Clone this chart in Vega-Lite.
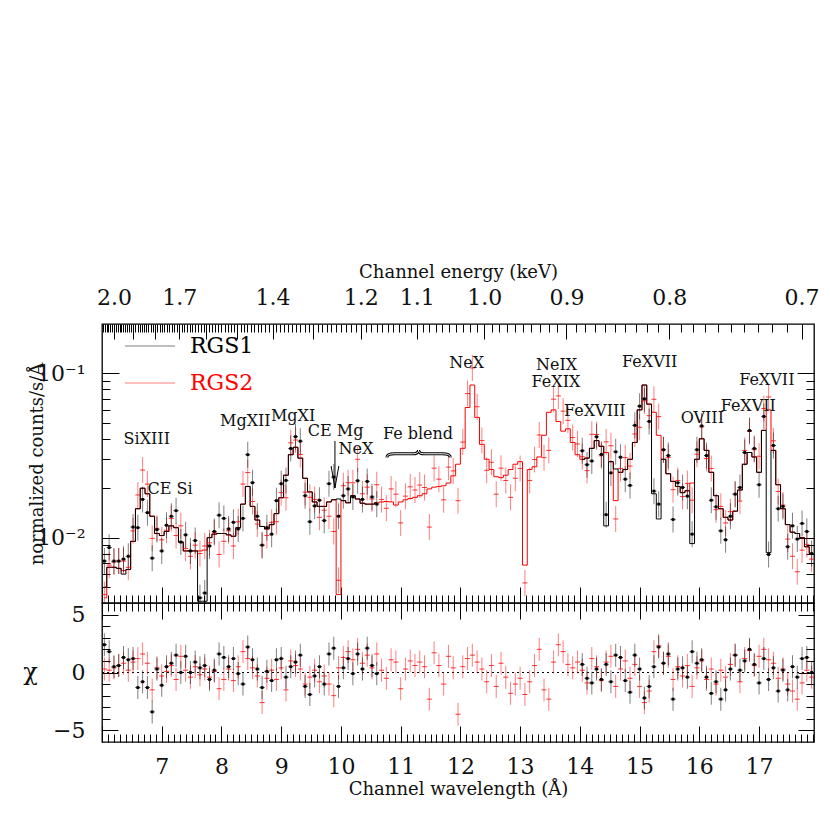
{
  "$schema": "https://vega.github.io/schema/vega-lite/v6.json",
  "background": "white",
  "padding": {"left": 22, "top": 262, "right": 5, "bottom": 5},
  "spacing": 0,
  "bounds": "flush",
  "resolve": {"scale": {"color": "independent"}},
  "config": {
    "view": {"stroke": "black", "strokeWidth": 1.3},
    "axis": {"domain": false, "grid": false, "tickColor": "black", "tickWidth": 1, "labelFont": "DejaVu Serif", "titleFont": "DejaVu Serif", "labelColor": "#111", "titleColor": "#111", "titleFontWeight": "normal", "labelFontSize": 22, "titleFontSize": 18, "labelOverlap": false, "labelFlush": false, "labelBound": false},
    "text": {"font": "DejaVu Serif"}
  },
  "datasets": {
    "spec": [
      {"s":"RGS2","x":6.04,"y":0.0045,"m":0.0043,"r":0.3},
      {"s":"RGS2","x":6.12,"y":0.0068,"m":0.0066,"r":0.2},
      {"s":"RGS2","x":6.20,"y":0.0071,"m":0.0066,"r":0.4},
      {"s":"RGS2","x":6.28,"y":0.0072,"m":0.0065,"r":0.6},
      {"s":"RGS2","x":6.36,"y":0.0072,"m":0.0063,"r":0.8},
      {"s":"RGS2","x":6.44,"y":0.0066,"m":0.0064,"r":0.2},
      {"s":"RGS2","x":6.52,"y":0.0110,"m":0.0095,"r":0.9},
      {"s":"RGS2","x":6.60,"y":0.0182,"m":0.0150,"r":1.2},
      {"s":"RGS2","x":6.68,"y":0.0258,"m":0.0200,"r":1.6},
      {"s":"RGS2","x":6.76,"y":0.0212,"m":0.0185,"r":0.8},
      {"s":"RGS2","x":6.84,"y":0.0099,"m":0.0135,"r":-1.5},
      {"s":"RGS2","x":6.92,"y":0.0114,"m":0.0106,"r":0.4},
      {"s":"RGS2","x":7.00,"y":0.0097,"m":0.0103,"r":-0.3},
      {"s":"RGS2","x":7.08,"y":0.0111,"m":0.0109,"r":0.1},
      {"s":"RGS2","x":7.16,"y":0.0131,"m":0.0118,"r":0.6},
      {"s":"RGS2","x":7.24,"y":0.0103,"m":0.0115,"r":-0.6},
      {"s":"RGS2","x":7.32,"y":0.0118,"m":0.0094,"r":1.4},
      {"s":"RGS2","x":7.40,"y":0.0086,"m":0.0083,"r":0.2},
      {"s":"RGS2","x":7.48,"y":0.0077,"m":0.0083,"r":-0.4},
      {"s":"RGS2","x":7.56,"y":0.0090,"m":0.0083,"r":0.5},
      {"s":"RGS2","x":7.64,"y":0.0080,"m":0.0083,"r":-0.2},
      {"s":"RGS2","x":7.72,"y":0.0089,"m":0.0084,"r":0.3},
      {"s":"RGS2","x":7.80,"y":0.0093,"m":0.0100,"r":-0.4},
      {"s":"RGS2","x":7.88,"y":0.0107,"m":0.0105,"r":0.1},
      {"s":"RGS2","x":7.96,"y":0.0079,"m":0.0106,"r":-1.4},
      {"s":"RGS2","x":8.04,"y":0.0095,"m":0.0106,"r":-0.6},
      {"s":"RGS2","x":8.12,"y":0.0110,"m":0.0104,"r":0.3},
      {"s":"RGS2","x":8.20,"y":0.0089,"m":0.0102,"r":-0.7},
      {"s":"RGS2","x":8.28,"y":0.0125,"m":0.0115,"r":0.5},
      {"s":"RGS2","x":8.36,"y":0.0212,"m":0.0160,"r":1.8},
      {"s":"RGS2","x":8.44,"y":0.0249,"m":0.0205,"r":1.2},
      {"s":"RGS2","x":8.52,"y":0.0166,"m":0.0155,"r":0.4},
      {"s":"RGS2","x":8.60,"y":0.0121,"m":0.0128,"r":-0.3},
      {"s":"RGS2","x":8.68,"y":0.0090,"m":0.0117,"r":-2.6},
      {"s":"RGS2","x":8.76,"y":0.0103,"m":0.0113,"r":-0.5},
      {"s":"RGS2","x":8.84,"y":0.0124,"m":0.0120,"r":0.2},
      {"s":"RGS2","x":8.92,"y":0.0125,"m":0.0140,"r":-0.6},
      {"s":"RGS2","x":9.00,"y":0.0188,"m":0.0175,"r":0.4},
      {"s":"RGS2","x":9.08,"y":0.0175,"m":0.0240,"r":-1.5},
      {"s":"RGS2","x":9.16,"y":0.0378,"m":0.0320,"r":1.0},
      {"s":"RGS2","x":9.24,"y":0.0393,"m":0.0355,"r":0.6},
      {"s":"RGS2","x":9.32,"y":0.0321,"m":0.0305,"r":0.3},
      {"s":"RGS2","x":9.40,"y":0.0189,"m":0.0230,"r":-1.0},
      {"s":"RGS2","x":9.48,"y":0.0176,"m":0.0190,"r":-0.4},
      {"s":"RGS2","x":9.56,"y":0.0171,"m":0.0165,"r":0.2},
      {"s":"RGS2","x":9.64,"y":0.0133,"m":0.0155,"r":-0.8},
      {"s":"RGS2","x":9.72,"y":0.0147,"m":0.0155,"r":-0.3},
      {"s":"RGS2","x":9.80,"y":0.0135,"m":0.0165,"r":-1.0},
      {"s":"RGS2","x":9.88,"y":0.0109,"m":0.0170,"r":-2.0},
      {"s":"RGS2","x":9.96,"y":0.0055,"m":0.0045,"r":0.4},
      {"s":"RGS2","x":10.04,"y":0.0207,"m":0.0168,"r":1.3},
      {"s":"RGS2","x":10.12,"y":0.0216,"m":0.0163,"r":1.8},
      {"s":"RGS2","x":10.20,"y":0.0216,"m":0.0180,"r":1.1},
      {"s":"RGS2","x":10.28,"y":0.0300,"m":0.0172,"r":2.0},
      {"s":"RGS2","x":10.36,"y":0.0185,"m":0.0162,"r":0.8},
      {"s":"RGS2","x":10.44,"y":0.0203,"m":0.0160,"r":1.5},
      {"s":"RGS2","x":10.52,"y":0.0172,"m":0.0160,"r":0.4},
      {"s":"RGS2","x":10.60,"y":0.0210,"m":0.0163,"r":1.6},
      {"s":"RGS2","x":10.68,"y":0.0171,"m":0.0165,"r":0.2},
      {"s":"RGS2","x":10.76,"y":0.0151,"m":0.0166,"r":-0.5},
      {"s":"RGS2","x":10.84,"y":0.0198,"m":0.0165,"r":1.1},
      {"s":"RGS2","x":10.92,"y":0.0184,"m":0.0158,"r":0.9},
      {"s":"RGS2","x":11.00,"y":0.0123,"m":0.0165,"r":-1.4},
      {"s":"RGS2","x":11.08,"y":0.0179,"m":0.0170,"r":0.3},
      {"s":"RGS2","x":11.16,"y":0.0204,"m":0.0173,"r":1.0},
      {"s":"RGS2","x":11.24,"y":0.0195,"m":0.0176,"r":0.6},
      {"s":"RGS2","x":11.32,"y":0.0209,"m":0.0180,"r":0.9},
      {"s":"RGS2","x":11.40,"y":0.0202,"m":0.0185,"r":0.5},
      {"s":"RGS2","x":11.48,"y":0.0116,"m":0.0198,"r":-2.3},
      {"s":"RGS2","x":11.56,"y":0.0265,"m":0.0203,"r":1.7},
      {"s":"RGS2","x":11.64,"y":0.0227,"m":0.0205,"r":0.6},
      {"s":"RGS2","x":11.72,"y":0.0170,"m":0.0207,"r":-1.0},
      {"s":"RGS2","x":11.80,"y":0.0269,"m":0.0215,"r":1.4},
      {"s":"RGS2","x":11.88,"y":0.0255,"m":0.0238,"r":0.4},
      {"s":"RGS2","x":11.96,"y":0.0168,"m":0.0280,"r":-3.6},
      {"s":"RGS2","x":12.04,"y":0.0382,"m":0.0350,"r":0.5},
      {"s":"RGS2","x":12.12,"y":0.0754,"m":0.0620,"r":1.2},
      {"s":"RGS2","x":12.20,"y":0.1080,"m":0.0850,"r":1.5},
      {"s":"RGS2","x":12.28,"y":0.0627,"m":0.0540,"r":0.9},
      {"s":"RGS2","x":12.36,"y":0.0390,"m":0.0370,"r":0.3},
      {"s":"RGS2","x":12.44,"y":0.0257,"m":0.0300,"r":-0.8},
      {"s":"RGS2","x":12.52,"y":0.0288,"m":0.0260,"r":0.6},
      {"s":"RGS2","x":12.60,"y":0.0184,"m":0.0235,"r":-1.2},
      {"s":"RGS2","x":12.68,"y":0.0265,"m":0.0232,"r":0.8},
      {"s":"RGS2","x":12.76,"y":0.0223,"m":0.0240,"r":-0.4},
      {"s":"RGS2","x":12.84,"y":0.0176,"m":0.0260,"r":-1.8},
      {"s":"RGS2","x":12.92,"y":0.0230,"m":0.0280,"r":-1.0},
      {"s":"RGS2","x":13.00,"y":0.0264,"m":0.0290,"r":-0.5},
      {"s":"RGS2","x":13.08,"y":0.0053,"m":0.0068,"r":-1.9},
      {"s":"RGS2","x":13.16,"y":0.0223,"m":0.0260,"r":-0.8},
      {"s":"RGS2","x":13.24,"y":0.0299,"m":0.0270,"r":0.6},
      {"s":"RGS2","x":13.32,"y":0.0422,"m":0.0310,"r":2.0},
      {"s":"RGS2","x":13.40,"y":0.0307,"m":0.0420,"r":-1.5},
      {"s":"RGS2","x":13.48,"y":0.0340,"m":0.0580,"r":-2.3},
      {"s":"RGS2","x":13.56,"y":0.0697,"m":0.0600,"r":0.9},
      {"s":"RGS2","x":13.64,"y":0.0730,"m":0.0510,"r":2.4},
      {"s":"RGS2","x":13.72,"y":0.0589,"m":0.0445,"r":1.8},
      {"s":"RGS2","x":13.80,"y":0.0518,"m":0.0460,"r":0.7},
      {"s":"RGS2","x":13.88,"y":0.0407,"m":0.0380,"r":0.4},
      {"s":"RGS2","x":13.96,"y":0.0372,"m":0.0320,"r":0.9},
      {"s":"RGS2","x":14.04,"y":0.0311,"m":0.0300,"r":0.2},
      {"s":"RGS2","x":14.12,"y":0.0256,"m":0.0305,"r":-0.9},
      {"s":"RGS2","x":14.20,"y":0.0426,"m":0.0350,"r":1.2},
      {"s":"RGS2","x":14.28,"y":0.0425,"m":0.0390,"r":0.5},
      {"s":"RGS2","x":14.36,"y":0.0315,"m":0.0360,"r":-0.7},
      {"s":"RGS2","x":14.44,"y":0.0383,"m":0.0330,"r":0.9},
      {"s":"RGS2","x":14.52,"y":0.0363,"m":0.0290,"r":1.4},
      {"s":"RGS2","x":14.60,"y":0.0130,"m":0.0168,"r":-1.2},
      {"s":"RGS2","x":14.68,"y":0.0264,"m":0.0250,"r":0.3},
      {"s":"RGS2","x":14.76,"y":0.0307,"m":0.0260,"r":1.0},
      {"s":"RGS2","x":14.84,"y":0.0273,"m":0.0300,"r":-0.5},
      {"s":"RGS2","x":14.92,"y":0.0428,"m":0.0380,"r":0.7},
      {"s":"RGS2","x":15.00,"y":0.0470,"m":0.0600,"r":-1.2},
      {"s":"RGS2","x":15.08,"y":0.0680,"m":0.0850,"r":-2.6},
      {"s":"RGS2","x":15.16,"y":0.0553,"m":0.0650,"r":-1.6},
      {"s":"RGS2","x":15.24,"y":0.0696,"m":0.0580,"r":1.8},
      {"s":"RGS2","x":15.32,"y":0.0546,"m":0.0420,"r":2.3},
      {"s":"RGS2","x":15.40,"y":0.0343,"m":0.0300,"r":0.8},
      {"s":"RGS2","x":15.48,"y":0.0307,"m":0.0245,"r":1.4},
      {"s":"RGS2","x":15.56,"y":0.0196,"m":0.0220,"r":-0.6},
      {"s":"RGS2","x":15.64,"y":0.0223,"m":0.0205,"r":0.5},
      {"s":"RGS2","x":15.72,"y":0.0178,"m":0.0188,"r":-0.3},
      {"s":"RGS2","x":15.80,"y":0.0214,"m":0.0193,"r":0.6},
      {"s":"RGS2","x":15.88,"y":0.0169,"m":0.0215,"r":-1.2},
      {"s":"RGS2","x":15.96,"y":0.0322,"m":0.0300,"r":0.4},
      {"s":"RGS2","x":16.04,"y":0.0472,"m":0.0400,"r":1.0},
      {"s":"RGS2","x":16.12,"y":0.0303,"m":0.0340,"r":-0.6},
      {"s":"RGS2","x":16.20,"y":0.0264,"m":0.0250,"r":0.3},
      {"s":"RGS2","x":16.28,"y":0.0148,"m":0.0180,"r":-1.0},
      {"s":"RGS2","x":16.36,"y":0.0155,"m":0.0150,"r":0.2},
      {"s":"RGS2","x":16.44,"y":0.0123,"m":0.0133,"r":-0.4},
      {"s":"RGS2","x":16.52,"y":0.0144,"m":0.0128,"r":0.7},
      {"s":"RGS2","x":16.60,"y":0.0184,"m":0.0145,"r":1.5},
      {"s":"RGS2","x":16.68,"y":0.0167,"m":0.0195,"r":-0.8},
      {"s":"RGS2","x":16.76,"y":0.0340,"m":0.0280,"r":1.2},
      {"s":"RGS2","x":16.84,"y":0.0443,"m":0.0330,"r":1.9},
      {"s":"RGS2","x":16.92,"y":0.0343,"m":0.0310,"r":0.6},
      {"s":"RGS2","x":17.00,"y":0.0313,"m":0.0250,"r":1.4},
      {"s":"RGS2","x":17.08,"y":0.0612,"m":0.0450,"r":2.0},
      {"s":"RGS2","x":17.16,"y":0.0719,"m":0.0600,"r":1.1},
      {"s":"RGS2","x":17.24,"y":0.0389,"m":0.0340,"r":0.8},
      {"s":"RGS2","x":17.32,"y":0.0191,"m":0.0210,"r":-0.5},
      {"s":"RGS2","x":17.40,"y":0.0158,"m":0.0150,"r":0.3},
      {"s":"RGS2","x":17.48,"y":0.0098,"m":0.0120,"r":-1.0},
      {"s":"RGS2","x":17.56,"y":0.0077,"m":0.0108,"r":-1.6},
      {"s":"RGS2","x":17.64,"y":0.0062,"m":0.0106,"r":-2.3},
      {"s":"RGS2","x":17.72,"y":0.0084,"m":0.0100,"r":-0.9},
      {"s":"RGS2","x":17.80,"y":0.0091,"m":0.0088,"r":0.2},
      {"s":"RGS2","x":17.88,"y":0.0074,"m":0.0080,"r":-0.4},
      {"s":"RGS1","x":6.04,"y":0.0072,"m":0.0050,"r":2.4},
      {"s":"RGS1","x":6.12,"y":0.0087,"m":0.0066,"r":1.8},
      {"s":"RGS1","x":6.20,"y":0.0072,"m":0.0066,"r":0.5},
      {"s":"RGS1","x":6.28,"y":0.0072,"m":0.0065,"r":0.6},
      {"s":"RGS1","x":6.36,"y":0.0074,"m":0.0060,"r":1.3},
      {"s":"RGS1","x":6.44,"y":0.0077,"m":0.0064,"r":1.1},
      {"s":"RGS1","x":6.52,"y":0.0116,"m":0.0095,"r":1.2},
      {"s":"RGS1","x":6.60,"y":0.0115,"m":0.0150,"r":-1.3},
      {"s":"RGS1","x":6.68,"y":0.0171,"m":0.0200,"r":-0.8},
      {"s":"RGS1","x":6.76,"y":0.0142,"m":0.0185,"r":-1.3},
      {"s":"RGS1","x":6.84,"y":0.0075,"m":0.0135,"r":-3.4},
      {"s":"RGS1","x":6.92,"y":0.0112,"m":0.0106,"r":0.3},
      {"s":"RGS1","x":7.00,"y":0.0083,"m":0.0103,"r":-1.1},
      {"s":"RGS1","x":7.08,"y":0.0119,"m":0.0109,"r":0.5},
      {"s":"RGS1","x":7.16,"y":0.0135,"m":0.0118,"r":0.8},
      {"s":"RGS1","x":7.24,"y":0.0146,"m":0.0115,"r":1.5},
      {"s":"RGS1","x":7.32,"y":0.0094,"m":0.0094,"r":0.0},
      {"s":"RGS1","x":7.40,"y":0.0104,"m":0.0083,"r":1.4},
      {"s":"RGS1","x":7.48,"y":0.0083,"m":0.0083,"r":0.0},
      {"s":"RGS1","x":7.56,"y":0.0096,"m":0.0083,"r":0.9},
      {"s":"RGS1","x":7.64,"y":0.0043,"m":0.0041,"r":0.4},
      {"s":"RGS1","x":7.72,"y":0.0046,"m":0.0041,"r":0.6},
      {"s":"RGS1","x":7.80,"y":0.0089,"m":0.0100,"r":-0.6},
      {"s":"RGS1","x":7.88,"y":0.0109,"m":0.0105,"r":0.2},
      {"s":"RGS1","x":7.96,"y":0.0137,"m":0.0106,"r":1.6},
      {"s":"RGS1","x":8.04,"y":0.0131,"m":0.0106,"r":1.3},
      {"s":"RGS1","x":8.12,"y":0.0113,"m":0.0104,"r":0.5},
      {"s":"RGS1","x":8.20,"y":0.0124,"m":0.0102,"r":1.2},
      {"s":"RGS1","x":8.28,"y":0.0113,"m":0.0115,"r":-0.1},
      {"s":"RGS1","x":8.36,"y":0.0131,"m":0.0160,"r":-1.0},
      {"s":"RGS1","x":8.44,"y":0.0320,"m":0.0205,"r":2.2},
      {"s":"RGS1","x":8.52,"y":0.0216,"m":0.0155,"r":1.1},
      {"s":"RGS1","x":8.60,"y":0.0135,"m":0.0128,"r":0.3},
      {"s":"RGS1","x":8.68,"y":0.0090,"m":0.0117,"r":-1.3},
      {"s":"RGS1","x":8.76,"y":0.0115,"m":0.0113,"r":0.1},
      {"s":"RGS1","x":8.84,"y":0.0105,"m":0.0120,"r":-0.7},
      {"s":"RGS1","x":8.92,"y":0.0168,"m":0.0140,"r":1.1},
      {"s":"RGS1","x":9.00,"y":0.0213,"m":0.0175,"r":1.2},
      {"s":"RGS1","x":9.08,"y":0.0223,"m":0.0240,"r":-0.4},
      {"s":"RGS1","x":9.16,"y":0.0349,"m":0.0320,"r":0.5},
      {"s":"RGS1","x":9.24,"y":0.0412,"m":0.0355,"r":0.9},
      {"s":"RGS1","x":9.32,"y":0.0387,"m":0.0305,"r":1.5},
      {"s":"RGS1","x":9.40,"y":0.0180,"m":0.0230,"r":-1.2},
      {"s":"RGS1","x":9.48,"y":0.0125,"m":0.0190,"r":-1.9},
      {"s":"RGS1","x":9.56,"y":0.0156,"m":0.0165,"r":-0.3},
      {"s":"RGS1","x":9.64,"y":0.0169,"m":0.0155,"r":0.5},
      {"s":"RGS1","x":9.72,"y":0.0127,"m":0.0155,"r":-1.0},
      {"s":"RGS1","x":9.80,"y":0.0213,"m":0.0165,"r":1.6},
      {"s":"RGS1","x":9.88,"y":0.0234,"m":0.0170,"r":2.1},
      {"s":"RGS1","x":9.96,"y":0.0135,"m":0.0172,"r":-1.2},
      {"s":"RGS1","x":10.04,"y":0.0180,"m":0.0168,"r":0.4},
      {"s":"RGS1","x":10.12,"y":0.0198,"m":0.0163,"r":1.2},
      {"s":"RGS1","x":10.20,"y":0.0177,"m":0.0180,"r":-0.1},
      {"s":"RGS1","x":10.28,"y":0.0222,"m":0.0172,"r":1.6},
      {"s":"RGS1","x":10.36,"y":0.0171,"m":0.0162,"r":0.3},
      {"s":"RGS1","x":10.44,"y":0.0220,"m":0.0160,"r":2.1},
      {"s":"RGS1","x":10.52,"y":0.0177,"m":0.0160,"r":0.6},
      {"s":"RGS1","x":10.60,"y":0.0160,"m":0.0163,"r":-0.1},
      {"s":"RGS1","g":2,"x":14.04,"y":0.0338,"m":0.0300,"r":0.7},
      {"s":"RGS1","g":2,"x":14.12,"y":0.0278,"m":0.0305,"r":-0.5},
      {"s":"RGS1","g":2,"x":14.20,"y":0.0293,"m":0.0350,"r":-0.9},
      {"s":"RGS1","g":2,"x":14.28,"y":0.0411,"m":0.0390,"r":0.3},
      {"s":"RGS1","g":2,"x":14.36,"y":0.0321,"m":0.0360,"r":-0.6},
      {"s":"RGS1","g":2,"x":14.44,"y":0.0138,"m":0.0118,"r":0.7},
      {"s":"RGS1","g":2,"x":14.52,"y":0.0248,"m":0.0290,"r":-0.8},
      {"s":"RGS1","g":2,"x":14.60,"y":0.0333,"m":0.0262,"r":1.5},
      {"s":"RGS1","g":2,"x":14.68,"y":0.0309,"m":0.0250,"r":1.3},
      {"s":"RGS1","g":2,"x":14.76,"y":0.0227,"m":0.0260,"r":-0.7},
      {"s":"RGS1","g":2,"x":14.84,"y":0.0208,"m":0.0300,"r":-1.7},
      {"s":"RGS1","g":2,"x":14.92,"y":0.0483,"m":0.0380,"r":1.5},
      {"s":"RGS1","g":2,"x":15.00,"y":0.0632,"m":0.0600,"r":0.3},
      {"s":"RGS1","g":2,"x":15.08,"y":0.0700,"m":0.0850,"r":-2.2},
      {"s":"RGS1","g":2,"x":15.16,"y":0.0510,"m":0.0650,"r":-1.2},
      {"s":"RGS1","g":2,"x":15.24,"y":0.0192,"m":0.0185,"r":0.5},
      {"s":"RGS1","g":2,"x":15.32,"y":0.0160,"m":0.0130,"r":2.2},
      {"s":"RGS1","g":2,"x":15.40,"y":0.0343,"m":0.0300,"r":0.8},
      {"s":"RGS1","g":2,"x":15.48,"y":0.0316,"m":0.0245,"r":1.6},
      {"s":"RGS1","g":2,"x":15.56,"y":0.0129,"m":0.0220,"r":-2.3},
      {"s":"RGS1","g":2,"x":15.64,"y":0.0216,"m":0.0205,"r":0.3},
      {"s":"RGS1","g":2,"x":15.72,"y":0.0202,"m":0.0188,"r":0.4},
      {"s":"RGS1","g":2,"x":15.80,"y":0.0179,"m":0.0193,"r":-0.4},
      {"s":"RGS1","g":2,"x":15.88,"y":0.0105,"m":0.0092,"r":1.8},
      {"s":"RGS1","g":2,"x":15.96,"y":0.0343,"m":0.0300,"r":0.8},
      {"s":"RGS1","g":2,"x":16.04,"y":0.0479,"m":0.0400,"r":1.1},
      {"s":"RGS1","g":2,"x":16.12,"y":0.0316,"m":0.0340,"r":-0.4},
      {"s":"RGS1","g":2,"x":16.20,"y":0.0169,"m":0.0250,"r":-1.8},
      {"s":"RGS1","g":2,"x":16.28,"y":0.0154,"m":0.0180,"r":-0.8},
      {"s":"RGS1","g":2,"x":16.36,"y":0.0110,"m":0.0150,"r":-2.3},
      {"s":"RGS1","g":2,"x":16.44,"y":0.0097,"m":0.0133,"r":-1.5},
      {"s":"RGS1","g":2,"x":16.52,"y":0.0135,"m":0.0128,"r":0.3},
      {"s":"RGS1","g":2,"x":16.60,"y":0.0184,"m":0.0145,"r":1.5},
      {"s":"RGS1","g":2,"x":16.68,"y":0.0202,"m":0.0195,"r":0.2},
      {"s":"RGS1","g":2,"x":16.76,"y":0.0330,"m":0.0280,"r":1.0},
      {"s":"RGS1","g":2,"x":16.84,"y":0.0449,"m":0.0330,"r":2.0},
      {"s":"RGS1","g":2,"x":16.92,"y":0.0349,"m":0.0310,"r":0.7},
      {"s":"RGS1","g":2,"x":17.00,"y":0.0210,"m":0.0250,"r":-0.9},
      {"s":"RGS1","g":2,"x":17.08,"y":0.0547,"m":0.0450,"r":1.2},
      {"s":"RGS1","g":2,"x":17.16,"y":0.0079,"m":0.0081,"r":-0.6},
      {"s":"RGS1","g":2,"x":17.24,"y":0.0364,"m":0.0340,"r":0.4},
      {"s":"RGS1","g":2,"x":17.32,"y":0.0150,"m":0.0210,"r":-1.6},
      {"s":"RGS1","g":2,"x":17.40,"y":0.0155,"m":0.0150,"r":0.2},
      {"s":"RGS1","g":2,"x":17.48,"y":0.0088,"m":0.0120,"r":-1.5},
      {"s":"RGS1","g":2,"x":17.56,"y":0.0118,"m":0.0108,"r":0.5},
      {"s":"RGS1","g":2,"x":17.64,"y":0.0098,"m":0.0106,"r":-0.4},
      {"s":"RGS1","g":2,"x":17.72,"y":0.0122,"m":0.0100,"r":1.2},
      {"s":"RGS1","g":2,"x":17.80,"y":0.0109,"m":0.0088,"r":1.3},
      {"s":"RGS1","g":2,"x":17.88,"y":0.0080,"m":0.0080,"r":0.0}
    ]
  },
  "vconcat": [
    {
      "width": 712,
      "height": 279,
      "data": {"name": "spec"},
      "layer": [
        {
          "mark": {"type": "line", "interpolate": "step", "strokeWidth": 1, "clip": true},
          "encoding": {
            "x": {"field": "x", "type": "quantitative", "scale": {"domain": [6.0, 17.92], "nice": false, "zero": false},
              "axis": {"orient": "top", "values": [17.711,17.462,17.219,16.984,16.754,16.531,16.313,16.101,15.895,15.694,15.498,15.306,15.120,14.937,14.760,14.586,14.416,14.251,14.089,13.930,13.776,13.624,13.476,13.331,13.189,13.051,12.915,12.782,12.651,12.523,12.398,12.275,12.155,12.037,11.921,11.808,11.696,11.587,11.480,11.374,11.271,11.169,11.070,10.972,10.875,10.781,10.688,10.597,10.507,10.418,10.332,10.246,10.162,10.080,9.998,9.918,9.840,9.762,9.686,9.611,9.537,9.464,9.392,9.322,9.252,9.184,9.116,9.050,8.984,8.919,8.856,8.793,8.731,8.670,8.610,8.550,8.492,8.434,8.377,8.321,8.265,8.211,8.157,8.103,8.051,7.999,7.947,7.897,7.847,7.797,7.749,7.701,7.653,7.606,7.560,7.514,7.469,7.424,7.380,7.336,7.293,7.250,7.208,7.167,7.125,7.085,7.044,7.005,6.965,6.926,6.888,6.850,6.812,6.775,6.738,6.702,6.666,6.630,6.595,6.560,6.525,6.491,6.457,6.424,6.391,6.358,6.326,6.293,6.262,6.230,6.199,6.168,6.138,6.107,6.077,6.048,6.018],
                "tickSize": {"condition": {"test": "abs(12.398/datum.value*10 - round(12.398/datum.value*10)) < 0.03", "value": -15}, "value": -8},
                "labelExpr": "indexof([200,170,140,120,110,100,90,80,70], round(1239.8/datum.value)) >= 0 ? format(12.398/datum.value, '.1f') : ''",
                "labelPadding": 30, "title": "Channel energy (keV)", "titleY": -52, "titleBaseline": "middle"}},
            "y": {"field": "m", "type": "quantitative", "scale": {"type": "log", "domain": [0.004, 0.2], "nice": false},
              "axis": {"orient": "right", "values": [0.005,0.006,0.007,0.008,0.009,0.01,0.02,0.03,0.04,0.05,0.06,0.07,0.08,0.09,0.1],
                "tickSize": {"condition": {"test": "datum.value===0.01||datum.value===0.1", "value": -17}, "value": -8},
                "labels": false, "title": null}},
            "color": {"field": "s", "type": "nominal", "scale": {"domain": ["RGS1", "RGS2"], "range": ["black", "#ff0000"]},
              "legend": {"orient": "none", "legendX": 22, "legendY": -4, "title": null, "symbolType": "stroke", "symbolSize": 2500, "symbolStrokeWidth": 1.2, "labelFontSize": 22, "labelFont": "DejaVu Serif", "labelOffset": 14, "rowPadding": -33,
                "labelColor": {"expr": "datum.value === 'RGS1' ? 'black' : '#ff0000'"}}},
            "detail": {"field": "g"}
          }
        },
        {
          "mark": {"type": "tick", "orient": "vertical", "size": 26, "thickness": 1, "opacity": 0.5, "clip": true},
          "encoding": {
            "x": {"field": "x", "type": "quantitative",
              "axis": {"orient": "bottom", "tickCount": 120, "labels": false, "title": null,
                "tickSize": {"condition": {"test": "abs(datum.value-round(datum.value))<0.001", "value": -16}, "value": -8}}},
            "y": {"field": "y", "type": "quantitative",
              "axis": {"orient": "left", "values": [0.005,0.006,0.007,0.008,0.009,0.01,0.02,0.03,0.04,0.05,0.06,0.07,0.08,0.09,0.1],
                "tickSize": {"condition": {"test": "datum.value===0.01||datum.value===0.1", "value": -17}, "value": -8},
                "labelExpr": "datum.value===0.1 ? '10⁻¹' : datum.value===0.01 ? '10⁻²' : ''",
                "labelPadding": 34, "title": "normalized counts/s/Å", "titleX": -65, "titleY": 139.5, "titleAngle": -90, "titleAlign": "center", "titleBaseline": "middle"}},
            "color": {"field": "s", "type": "nominal"}
          }
        },
        {
          "mark": {"type": "tick", "orient": "horizontal", "size": 5, "thickness": 1, "opacity": 0.8, "clip": true},
          "encoding": {
            "x": {"field": "x", "type": "quantitative", "axis": null},
            "y": {"field": "y", "type": "quantitative", "axis": null},
            "color": {"field": "s", "type": "nominal"}
          }
        },
        {
          "transform": [{"filter": "datum.s === 'RGS1'"}],
          "mark": {"type": "square", "size": 8, "color": "black", "opacity": 1, "clip": true},
          "encoding": {
            "x": {"field": "x", "type": "quantitative", "axis": null},
            "y": {"field": "y", "type": "quantitative", "axis": null}
          }
        },
        {
          "data": {"values": [
            {"t": "SiXIII", "x": 6.75, "y": 0.0397},
            {"t": "CE Si", "x": 7.14, "y": 0.0197},
            {"t": "MgXII", "x": 8.40, "y": 0.0513},
            {"t": "MgXI", "x": 9.20, "y": 0.055},
            {"t": "CE Mg", "x": 9.91, "y": 0.0446},
            {"t": "NeX", "x": 10.25, "y": 0.0345},
            {"t": "Fe  blend", "x": 11.29, "y": 0.0426},
            {"t": "NeX", "x": 12.105, "y": 0.116},
            {"t": "NeIX", "x": 13.61, "y": 0.1125},
            {"t": "FeXIX", "x": 13.60, "y": 0.0885},
            {"t": "FeXVIII", "x": 14.25, "y": 0.059},
            {"t": "FeXVII", "x": 15.17, "y": 0.1176},
            {"t": "OVIII", "x": 16.05, "y": 0.0537},
            {"t": "FeXVII", "x": 16.82, "y": 0.0633},
            {"t": "FeXVII", "x": 17.13, "y": 0.0907}
          ]},
          "mark": {"type": "text", "fontSize": 16, "font": "DejaVu Serif", "color": "#111", "align": "center", "baseline": "middle"},
          "encoding": {
            "x": {"field": "x", "type": "quantitative", "axis": null},
            "y": {"field": "y", "type": "quantitative", "axis": null},
            "text": {"field": "t"}
          }
        },
        {
          "data": {"values": [{"x": 9.9, "y": 0.0388, "y2": 0.0201}]},
          "mark": {"type": "rule", "color": "black", "strokeWidth": 1},
          "encoding": {
            "x": {"field": "x", "type": "quantitative", "axis": null},
            "y": {"field": "y", "type": "quantitative", "axis": null},
            "y2": {"field": "y2"}
          }
        },
        {
          "data": {"values": [{"x": 9.9, "y": 0.0234}]},
          "mark": {"type": "point", "shape": "M-0.35,-1L0,1L0.35,-1", "size": 484, "filled": false, "color": "black", "strokeWidth": 1, "opacity": 1},
          "encoding": {
            "x": {"field": "x", "type": "quantitative", "axis": null},
            "y": {"field": "y", "type": "quantitative", "axis": null}
          }
        },
        {
          "data": {"values": [{"x": 11.30, "y": 0.0324}]},
          "mark": {"type": "point", "shape": "M-1,0.12C-1,0.03 -0.92,0 -0.75,0L-0.2,0C-0.06,0 0,-0.04 0,-0.12C0,-0.04 0.06,0 0.2,0L0.75,0C0.92,0 1,0.03 1,0.12", "size": 4020, "filled": false, "color": "black", "strokeWidth": 3, "opacity": 1},
          "encoding": {
            "x": {"field": "x", "type": "quantitative", "axis": null},
            "y": {"field": "y", "type": "quantitative", "axis": null}
          }
        },
        {
          "data": {"values": [{"x": 11.30, "y": 0.0324}]},
          "mark": {"type": "point", "shape": "M-1,0.12C-1,0.03 -0.92,0 -0.75,0L-0.2,0C-0.06,0 0,-0.04 0,-0.12C0,-0.04 0.06,0 0.2,0L0.75,0C0.92,0 1,0.03 1,0.12", "size": 4020, "filled": false, "color": "white", "strokeWidth": 1, "opacity": 1},
          "encoding": {
            "x": {"field": "x", "type": "quantitative", "axis": null},
            "y": {"field": "y", "type": "quantitative", "axis": null}
          }
        }
      ],
      "resolve": {"axis": {"x": "independent", "y": "independent"}}
    },
    {
      "width": 712,
      "height": 139,
      "data": {"name": "spec"},
      "layer": [
        {
          "data": {"values": [{"z": 0}]},
          "mark": {"type": "rule", "color": "black", "strokeWidth": 1, "strokeDash": [2, 3]},
          "encoding": {
            "y": {"field": "z", "type": "quantitative", "scale": {"domain": [-6, 6], "nice": false, "zero": false}, "axis": null}
          }
        },
        {
          "mark": {"type": "tick", "orient": "vertical", "size": 23, "thickness": 1, "opacity": 0.5, "clip": true},
          "encoding": {
            "x": {"field": "x", "type": "quantitative", "scale": {"domain": [6.0, 17.92], "nice": false, "zero": false},
              "axis": {"orient": "bottom", "tickCount": 120,
                "tickSize": {"condition": {"test": "abs(datum.value-round(datum.value))<0.001", "value": -16}, "value": -8},
                "labelExpr": "datum.value > 6.5 && abs(datum.value-round(datum.value))<0.001 ? format(datum.value, 'd') : ''",
                "labelPadding": 30, "title": "Channel wavelength (Å)", "titleY": 47, "titleBaseline": "middle"}},
            "y": {"field": "r", "type": "quantitative",
              "axis": {"orient": "left", "values": [-5,-4,-3,-2,-1,0,1,2,3,4,5],
                "tickSize": {"condition": {"test": "datum.value % 5 === 0", "value": -16}, "value": -8},
                "labelExpr": "datum.value===5 ? '5' : datum.value===0 ? '0' : datum.value===-5 ? '−5' : ''",
                "labelPadding": 33, "title": "χ", "titleFontSize": 24, "titleAngle": 0, "titleX": -72, "titleY": 69.5, "titleAlign": "center", "titleBaseline": "middle"}},
            "color": {"field": "s", "type": "nominal", "scale": {"domain": ["RGS1", "RGS2"], "range": ["black", "#ff0000"]}, "legend": null}
          }
        },
        {
          "mark": {"type": "tick", "orient": "horizontal", "size": 5, "thickness": 1, "opacity": 0.8, "clip": true},
          "encoding": {
            "x": {"field": "x", "type": "quantitative",
              "axis": {"orient": "top", "tickCount": 120, "labels": false, "title": null,
                "tickSize": {"condition": {"test": "abs(datum.value-round(datum.value))<0.001", "value": -16}, "value": -8}}},
            "y": {"field": "r", "type": "quantitative",
              "axis": {"orient": "right", "values": [-5,-4,-3,-2,-1,0,1,2,3,4,5], "labels": false, "title": null,
                "tickSize": {"condition": {"test": "datum.value % 5 === 0", "value": -16}, "value": -8}}},
            "color": {"field": "s", "type": "nominal", "legend": null}
          }
        },
        {
          "transform": [{"filter": "datum.s === 'RGS1'"}],
          "mark": {"type": "square", "size": 8, "color": "black", "opacity": 1, "clip": true},
          "encoding": {
            "x": {"field": "x", "type": "quantitative", "axis": null},
            "y": {"field": "r", "type": "quantitative", "axis": null}
          }
        }
      ],
      "resolve": {"axis": {"x": "independent", "y": "independent"}}
    }
  ]
}
